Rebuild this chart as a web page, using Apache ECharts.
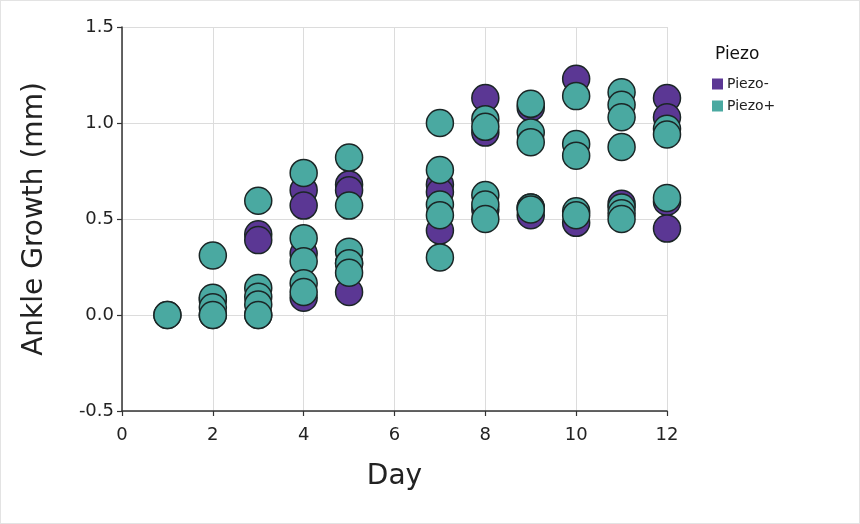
<!DOCTYPE html>
<html><head><meta charset="utf-8">
<script src="https://cdn.jsdelivr.net/npm/echarts@6/dist/echarts.min.js"></script>
<style>html,body{margin:0;padding:0;background:#fff}#c{width:858px;height:522px;border:1px solid #e3e3e3}</style>
</head><body><div id="c"></div>
<script>
const seriesNames = ['Piezo-', 'Piezo+'];
const xTicks = [0, 2, 4, 6, 8, 10, 12];
const yTicks = [-0.5, 0.0, 0.5, 1.0, 1.5];
const piezoMinus = [
  [1,0.0],[2,0.08],[2,0.0],[3,0.42],[3,0.39],[3,0.0],
  [4,0.65],[4,0.57],[4,0.32],[4,0.09],[5,0.68],[5,0.65],[5,0.27],[5,0.12],
  [7,0.68],[7,0.64],[7,0.44],[8,1.13],[8,0.95],[8,0.55],
  [9,1.08],[9,0.56],[9,0.52],[10,1.23],[10,0.48],
  [11,0.58],[12,1.13],[12,1.03],[12,0.59],[12,0.45]
];
const piezoPlus = [
  [1,0.0],[2,0.31],[2,0.09],[2,0.04],[2,0.0],
  [3,0.595],[3,0.14],[3,0.095],[3,0.055],[3,0.0],
  [4,0.74],[4,0.40],[4,0.28],[4,0.165],[4,0.12],
  [5,0.82],[5,0.57],[5,0.33],[5,0.27],[5,0.22],
  [7,1.0],[7,0.755],[7,0.575],[7,0.52],[7,0.30],
  [8,1.02],[8,0.98],[8,0.625],[8,0.575],[8,0.50],
  [9,1.10],[9,0.95],[9,0.90],[9,0.56],[9,0.55],
  [10,1.14],[10,0.89],[10,0.83],[10,0.54],[10,0.52],
  [11,1.16],[11,1.095],[11,1.03],[11,0.875],[11,0.56],[11,0.53],[11,0.50],
  [12,0.97],[12,0.94],[12,0.61]
];
const colors = ['#5b3794', '#4aa9a1'];
const chart = echarts.init(document.getElementById('c'));
const font = 'DejaVu Sans';
const axisCommon = {
  axisLine: {show: true, onZero: false, lineStyle: {color: '#333', width: 1.5}},
  axisTick: {show: true, length: 5, lineStyle: {color: '#333', width: 1.2}},
  splitLine: {show: true, lineStyle: {color: '#dcdcdc'}}
};
chart.setOption({
  animation: false,
  grid: {left: 121, right: 192, top: 26, bottom: 112},
  title: {text: 'Piezo', left: 709, top: 40, textStyle: {fontFamily: font, fontSize: 17, fontWeight: 'normal', color: '#111'}},
  legend: {
    data: seriesNames, orient: 'vertical', left: 711, top: 76, padding: 0, itemWidth: 11, itemHeight: 11, itemGap: 8,
    icon: 'rect', textStyle: {fontFamily: font, fontSize: 14, color: '#222', padding: [0,0,0,-1]},
    itemStyle: {borderWidth: 0}
  },
  xAxis: Object.assign({
    type: 'value', min: xTicks[0], max: xTicks[xTicks.length-1], interval: 2,
    name: 'Day', nameLocation: 'middle', nameGap: 52,
    nameTextStyle: {fontFamily: font, fontSize: 28, color: '#222'},
    axisLabel: {fontFamily: font, fontSize: 18, color: '#222', margin: 15}
  }, axisCommon),
  yAxis: Object.assign({
    type: 'value', min: yTicks[0], max: yTicks[yTicks.length-1], interval: 0.5,
    name: 'Ankle Growth (mm)', nameLocation: 'middle', nameGap: 73,
    nameTextStyle: {fontFamily: font, fontSize: 28, color: '#222'},
    axisLabel: {fontFamily: font, fontSize: 18, color: '#222', margin: 8, formatter: v => v.toFixed(1)}
  }, axisCommon),
  series: [
    {name: seriesNames[0], type: 'scatter', data: piezoMinus, symbolSize: 27,
     itemStyle: {color: colors[0], borderColor: '#1b2626', borderWidth: 1.5, opacity: 1}},
    {name: seriesNames[1], type: 'scatter', data: piezoPlus, symbolSize: 27,
     itemStyle: {color: colors[1], borderColor: '#1b2626', borderWidth: 1.5, opacity: 1}}
  ]
});
</script></body></html>
